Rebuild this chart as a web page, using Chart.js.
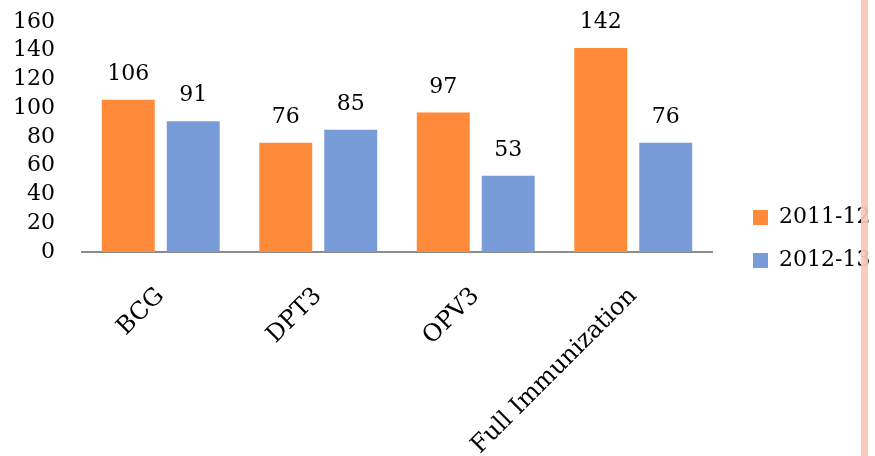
<!DOCTYPE html>
<html>
<head>
<meta charset="utf-8">
<script src="https://cdn.jsdelivr.net/npm/chart.js@4.4.1/dist/chart.umd.min.js"></script>
<style>
  html, body { margin: 0; padding: 0; background: #fff; }
  #wrap { position: relative; width: 875px; height: 456px; overflow: hidden; }
  #stripe { position: absolute; left: 861px; top: 0; width: 7px; height: 456px; background: #FAC6B4; opacity: 0.92; }
</style>
</head>
<body>
<div id="wrap">
  <canvas id="c" width="875" height="456"></canvas>
  <div id="stripe"></div>
</div>
<script>
const categories = ["BCG", "DPT3", "OPV3", "Full Immunization"];
const series2011 = [106, 76, 97, 142];
const series2012 = [91, 85, 53, 76];
const seriesNames = ["2011-12", "2012-13"];
const yTicks = [0, 20, 40, 60, 80, 100, 120, 140, 160];

const FONT = "'DejaVu Serif', 'Liberation Serif', serif";

const valueLabels = {
  id: 'valueLabels',
  afterDatasetsDraw(chart) {
    const ctx = chart.ctx;
    ctx.save();
    ctx.font = "22px " + FONT;
    ctx.fillStyle = '#000';
    ctx.textAlign = 'center';
    ctx.textBaseline = 'alphabetic';
    chart.data.datasets.forEach((ds, i) => {
      const meta = chart.getDatasetMeta(i);
      meta.data.forEach((bar, j) => {
        ctx.fillText(String(ds.data[j]), bar.x, bar.y - 20);
      });
    });
    ctx.restore();
  }
};

new Chart(document.getElementById('c'), {
  type: 'bar',
  data: {
    labels: categories,
    datasets: [
      { label: seriesNames[0], data: series2011, backgroundColor: '#FF8A3A', categoryPercentage: 0.825, barPercentage: 0.815 },
      { label: seriesNames[1], data: series2012, backgroundColor: '#789CD8', categoryPercentage: 0.825, barPercentage: 0.815 }
    ]
  },
  options: {
    responsive: false,
    animation: false,
    layout: { padding: { top: 22, left: 0, right: 0, bottom: 0 } },
    plugins: {
      legend: {
        position: 'right',
        maxWidth: 143,
        labels: {
          boxWidth: 15, boxHeight: 15, padding: 21,
          color: '#000',
          font: { family: FONT, size: 22 }
        }
      },
      tooltip: { enabled: false }
    },
    scales: {
      x: {
        grid: { display: false, drawTicks: false },
        border: { display: true, color: '#8C8C8C', width: 2 },
        ticks: {
          color: '#000', font: { family: FONT, size: 24 },
          minRotation: 45, maxRotation: 45, padding: 30, autoSkip: false
        },
        afterFit(s) { s.height = 204; s.paddingLeft = 0; s.paddingRight = 0; }
      },
      y: {
        min: 0, max: 160,
        grid: { display: false, drawTicks: false },
        border: { display: false },
        afterBuildTicks(s) { s.ticks = yTicks.map(v => ({ value: v })); },
        ticks: { color: '#000', font: { family: FONT, size: 22 }, padding: 27, autoSkip: false },
        afterFit(s) { s.width = 82; s.paddingTop = 0; s.paddingBottom = 0; }
      },
      pad: {
        position: 'right',
        display: true,
        grid: { display: false, drawTicks: false },
        border: { display: false },
        ticks: { display: false },
        afterFit(s) { s.width = 20; s.paddingTop = 0; s.paddingBottom = 0; }
      }
    }
  },
  plugins: [valueLabels]
});
</script>
</body>
</html>
